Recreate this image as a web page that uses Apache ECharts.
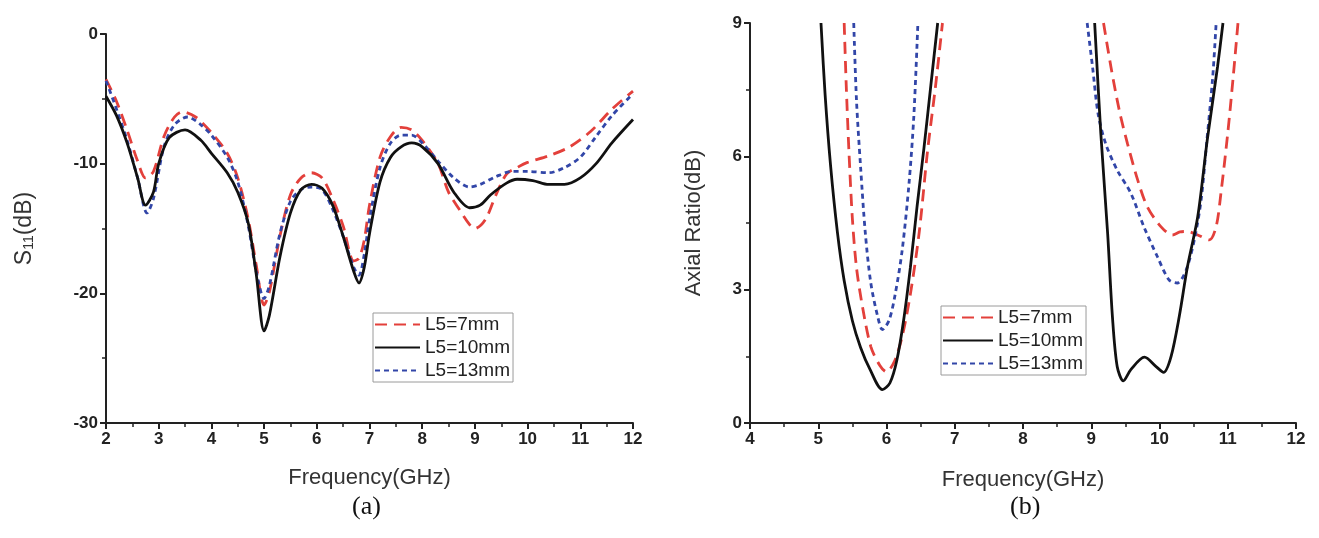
<!DOCTYPE html>
<html>
<head>
<meta charset="utf-8">
<script src="https://cdn.jsdelivr.net/npm/echarts@6/dist/echarts.min.js"></script>
<style>
  html, body { margin: 0; padding: 0; background: #fff; }
  #main { width: 1319px; height: 538px; }
</style>
</head>
<body>
<div id="main"></div>
<script>
// (a) S11 vs frequency, one x list per curve
const freqA7 = [2, 2.2, 2.4, 2.6, 2.75, 2.9, 3.1, 3.3, 3.45, 3.7, 4.0, 4.3, 4.5, 4.7, 4.85, 5.0, 5.1, 5.3, 5.5, 5.7, 5.9, 6.1, 6.3, 6.5, 6.7, 6.8, 6.9, 7.0, 7.2, 7.4, 7.6, 7.8, 8.0, 8.3, 8.5, 8.7, 8.9, 9.0, 9.2, 9.4, 9.6, 9.8, 10.0, 10.4, 10.8, 11.2, 11.6, 12.0];
const s11A7 = [-3.5, -5.2, -7.4, -9.8, -11.1, -10.6, -7.9, -6.4, -6.0, -6.4, -7.6, -9.2, -11.1, -14.3, -17.8, -20.9, -19.9, -15.6, -12.4, -11.1, -10.7, -11.1, -12.7, -14.8, -17.5, -17.3, -15.9, -13.2, -9.5, -7.9, -7.2, -7.4, -8.2, -10.0, -12.2, -13.5, -14.7, -15.0, -14.3, -12.4, -10.8, -10.3, -9.9, -9.4, -8.7, -7.5, -5.8, -4.4];

const freqA10 = [2, 2.2, 2.4, 2.6, 2.75, 2.9, 3.0, 3.2, 3.5, 3.8, 4.0, 4.3, 4.5, 4.7, 4.85, 5.0, 5.1, 5.3, 5.5, 5.7, 5.9, 6.1, 6.3, 6.5, 6.7, 6.8, 6.9, 7.0, 7.2, 7.4, 7.6, 7.8, 8.0, 8.3, 8.6, 8.9, 9.1, 9.3, 9.6, 9.8, 10.1, 10.4, 10.7, 11.0, 11.3, 11.6, 12.0];
const s11A10 = [-4.8, -6.3, -8.4, -11.1, -13.2, -12.2, -10.0, -8.0, -7.4, -8.2, -9.2, -10.7, -12.2, -14.6, -18.5, -22.9, -21.7, -17.2, -13.8, -12.0, -11.6, -11.9, -13.2, -15.6, -18.3, -19.2, -18.0, -15.4, -11.4, -9.5, -8.7, -8.4, -8.7, -10.0, -12.2, -13.4, -13.2, -12.4, -11.5, -11.2, -11.3, -11.6, -11.6, -11.1, -10.0, -8.4, -6.6];

const freqA13 = [2, 2.2, 2.4, 2.6, 2.78, 2.9, 3.1, 3.3, 3.55, 3.8, 4.0, 4.3, 4.5, 4.7, 4.85, 5.0, 5.1, 5.3, 5.5, 5.7, 5.9, 6.1, 6.3, 6.5, 6.7, 6.8, 6.9, 7.0, 7.2, 7.4, 7.6, 7.8, 8.0, 8.3, 8.6, 8.9, 9.1, 9.4, 9.7, 10.0, 10.4, 10.7, 11.0, 11.3, 11.6, 12.0];
const s11A13 = [-3.6, -5.8, -8.2, -11.1, -13.8, -12.7, -8.7, -7.0, -6.4, -7.0, -7.8, -9.5, -11.4, -14.8, -18.3, -20.4, -19.4, -15.4, -12.9, -12.0, -11.8, -12.0, -13.5, -15.6, -18.0, -18.6, -17.0, -14.3, -10.3, -8.4, -7.8, -7.8, -8.4, -9.8, -11.1, -11.8, -11.6, -11.0, -10.6, -10.6, -10.7, -10.3, -9.5, -7.9, -6.3, -4.6];

// (b) axial ratio, two bands per curve (clipped at 9 dB)
const freqB7 = [5.38, 5.41, 5.45, 5.5, 5.56, 5.65, 5.77, 5.9, 6.0, 6.12, 6.23, 6.35, 6.48, 6.6, 6.72, 6.82, null,
  9.18, 9.29, 9.41, 9.53, 9.68, 9.82, 10.02, 10.19, 10.3, 10.41, 10.56, 10.73, 10.83, 10.9, 11.0, 11.08, 11.15];
const arB7 = [9, 7.6, 6.1, 4.6, 3.5, 2.6, 1.72, 1.3, 1.15, 1.4, 1.95, 2.9, 4.3, 6.1, 7.6, 9, null,
  9, 8.0, 7.04, 6.29, 5.47, 4.87, 4.42, 4.23, 4.3, 4.31, 4.23, 4.12, 4.42, 5.17, 6.52, 7.79, 9];

const freqB10 = [5.04, 5.1, 5.18, 5.28, 5.38, 5.5, 5.62, 5.76, 5.94, 6.05, 6.15, 6.25, 6.35, 6.45, 6.55, 6.65, 6.75, null,
  9.05, 9.14, 9.24, 9.31, 9.38, 9.47, 9.58, 9.78, 9.95, 10.06, 10.17, 10.29, 10.41, 10.56, 10.7, 10.85, 10.93];
const arB10 = [9, 7.4, 5.8, 4.3, 3.2, 2.3, 1.7, 1.2, 0.75, 0.9, 1.4, 2.3, 3.5, 4.9, 6.2, 7.6, 9, null,
  9, 6.52, 4.27, 2.4, 1.27, 0.95, 1.2, 1.48, 1.27, 1.14, 1.5, 2.4, 3.52, 4.64, 6.37, 8.01, 9];

const freqB13 = [5.52, 5.56, 5.62, 5.69, 5.77, 5.87, 5.94, 6.04, 6.13, 6.23, 6.33, 6.4, 6.46, null,
  8.94, 9.02, 9.1, 9.21, 9.38, 9.58, 9.77, 9.97, 10.14, 10.26, 10.39, 10.51, 10.61, 10.69, 10.78, 10.83];
const arB13 = [9, 7.27, 5.77, 4.27, 3.15, 2.4, 2.1, 2.32, 2.92, 3.89, 5.39, 6.89, 9, null,
  9, 8.0, 6.96, 6.29, 5.69, 5.17, 4.42, 3.74, 3.22, 3.15, 3.44, 4.12, 5.02, 6.29, 7.79, 9];

const seriesNames = ['L5=7mm', 'L5=10mm', 'L5=13mm'];

function pairs(xs, ys) {
  return xs.map((x, i) => (x === null ? null : [x, ys[i]]));
}

const chart = echarts.init(document.getElementById('main'));

const FONT = '"Liberation Sans", Arial, sans-serif';
const AXIS_COLOR = '#222';

const lineStyles = [
  { color: '#e3403b', width: 2.8, type: [12, 7] },
  { color: '#111111', width: 2.8, type: 'solid' },
  { color: '#3246a8', width: 2.8, type: [5, 4] }
];

function axisCommon() {
  return {
    axisLine: { show: true, onZero: false, lineStyle: { color: AXIS_COLOR, width: 2 } },
    axisTick: { show: true, inside: false, length: 6, lineStyle: { color: AXIS_COLOR, width: 2 } },
    minorTick: { show: true, splitNumber: 2, length: 4, lineStyle: { color: AXIS_COLOR, width: 1.5 } },
    splitLine: { show: false },
    axisLabel: { color: AXIS_COLOR, fontFamily: FONT, fontWeight: 'bold', fontSize: 17 }
  };
}

function makeSeries(name, idx, xs, ys, grid) {
  return {
    name: name,
    type: 'line',
    xAxisIndex: grid,
    yAxisIndex: grid,
    data: pairs(xs, ys),
    showSymbol: false,
    symbol: 'none',
    smooth: 0.3,
    connectNulls: false,
    clip: true,
    lineStyle: lineStyles[idx],
    itemStyle: { color: lineStyles[idx].color },
    z: idx === 1 ? 3 : 2
  };
}

function makeLegend(left, top, itemWidth, itemHeight) {
  return {
    data: seriesNames,
    orient: 'vertical',
    left: left,
    top: top,
    itemWidth: itemWidth,
    itemHeight: itemHeight,
    itemGap: 4,
    padding: [2, 3, 2, 1],
    borderColor: '#9a9a9a',
    borderWidth: 1,
    selectedMode: false,
    // hide the symbol, keep the dashed line
    itemStyle: { opacity: 0 },
    textStyle: { fontFamily: FONT, fontSize: 19, color: '#222' }
  };
}

const option = {
  animation: false,
  backgroundColor: '#fff',
  grid: [
    { left: 106, top: 34, width: 527, height: 389 },
    { left: 750, top: 23, width: 546, height: 400 }
  ],
  xAxis: [
    Object.assign(axisCommon(), {
      type: 'value', gridIndex: 0, min: 2, max: 12, interval: 1,
      name: 'Frequency(GHz)', nameLocation: 'middle', nameGap: 44,
      nameTextStyle: { fontFamily: FONT, fontSize: 22, color: '#333' }
    }),
    Object.assign(axisCommon(), {
      type: 'value', gridIndex: 1, min: 4, max: 12, interval: 1,
      name: 'Frequency(GHz)', nameLocation: 'middle', nameGap: 46,
      nameTextStyle: { fontFamily: FONT, fontSize: 22, color: '#333' }
    })
  ],
  yAxis: [
    Object.assign(axisCommon(), {
      type: 'value', gridIndex: 0, min: -30, max: 0, interval: 10,
      name: '{s|S}{sub|11}{s|(dB)}', nameLocation: 'middle', nameGap: 70,
      nameTextStyle: {
        fontFamily: FONT, color: '#333',
        rich: {
          s: { fontFamily: FONT, fontSize: 23, lineHeight: 28, color: '#333', verticalAlign: 'bottom' },
          sub: { fontFamily: FONT, fontSize: 14, lineHeight: 14, color: '#333', verticalAlign: 'bottom' }
        }
      }
    }),
    Object.assign(axisCommon(), {
      type: 'value', gridIndex: 1, min: 0, max: 9, interval: 3,
      name: 'Axial Ratio(dB)', nameLocation: 'middle', nameGap: 45,
      nameTextStyle: { fontFamily: FONT, fontSize: 22, color: '#333' }
    })
  ],
  legend: [
    makeLegend(373, 313, 45, 20),
    makeLegend(941, 306, 50, 21)
  ],
  graphic: [
    { type: 'text', left: 352, top: 494, style: { text: '(a)', font: '26px "Liberation Serif", "Times New Roman", serif', fill: '#111' } },
    { type: 'text', left: 1010, top: 494, style: { text: '(b)', font: '26px "Liberation Serif", "Times New Roman", serif', fill: '#111' } }
  ],
  series: [
    makeSeries(seriesNames[0], 0, freqA7, s11A7, 0),
    makeSeries(seriesNames[1], 1, freqA10, s11A10, 0),
    makeSeries(seriesNames[2], 2, freqA13, s11A13, 0),
    makeSeries(seriesNames[0], 0, freqB7, arB7, 1),
    makeSeries(seriesNames[1], 1, freqB10, arB10, 1),
    makeSeries(seriesNames[2], 2, freqB13, arB13, 1)
  ]
};

chart.setOption(option);
</script>
</body>
</html>
